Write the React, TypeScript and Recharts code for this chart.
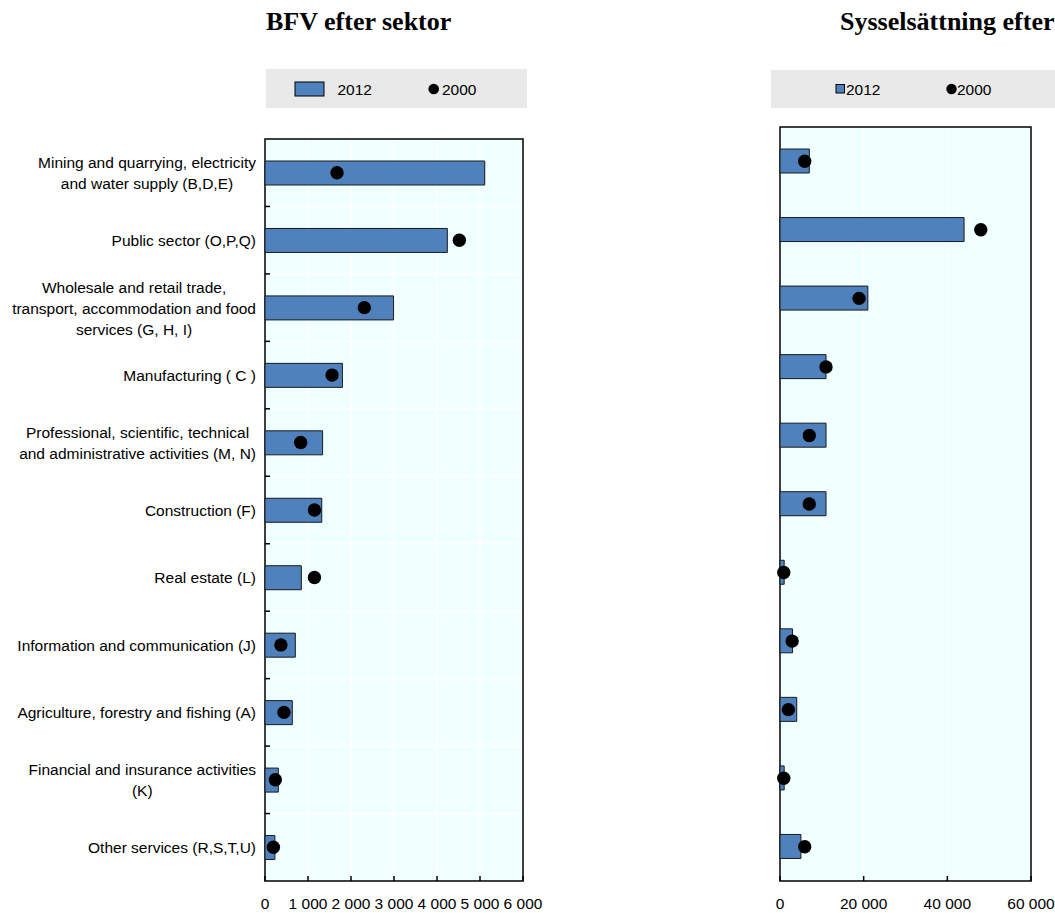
import React from 'react';
import { Bar, CartesianGrid, ComposedChart, ReferenceArea, Scatter, XAxis, YAxis } from 'recharts';

// categories (top to bottom), line breaks as in the original labels
const sectors = [
  'Mining and quarrying, electricity\nand water supply (B,D,E)',
  'Public sector (O,P,Q)',
  'Wholesale and retail trade,\ntransport, accommodation and food\nservices (G, H, I)',
  'Manufacturing ( C )',
  'Professional, scientific, technical\nand administrative activities (M, N)',
  'Construction (F)',
  'Real estate (L)',
  'Information and communication (J)',
  'Agriculture, forestry and fishing (A)',
  'Financial and insurance activities\n(K)',
  'Other services (R,S,T,U)',
];

// BFV (gross value added)
const gva2012 = [5110, 4240, 2990, 1800, 1340, 1320, 845, 705, 635, 310, 230];
const gva2000 = [1675, 4520, 2310, 1560, 830, 1150, 1150, 370, 440, 240, 195];

// employment
const emp2012 = [7000, 44000, 21000, 11000, 11000, 11000, 1000, 3000, 4000, 1000, 5000];
const emp2000 = [5900, 48000, 18900, 11000, 7000, 7000, 900, 2900, 2000, 900, 5900];

const gvaTicks = [0, 1000, 2000, 3000, 4000, 5000, 6000];
const empTicks = [0, 20000, 40000, 60000];

const gvaData = sectors.map((name, i) => ({ name, v2012: gva2012[i], v2000: gva2000[i] }));
const empData = sectors.map((name, i) => ({ name, v2012: emp2012[i], v2000: emp2000[i] }));

const SANS = '"Liberation Sans", Arial, sans-serif';
const FONT_SIZE = 15.5;
const LINE_H = 21;
const BAR_BLUE = '#4f81bd';
const PLOT_BG = '#f0ffff';

let ctx: CanvasRenderingContext2D | null = null;
const measure = (s: string) => {
  if (!ctx) ctx = document.createElement('canvas').getContext('2d');
  if (!ctx) return s.length * 7.5;
  ctx.font = `${FONT_SIZE}px ${SANS}`;
  return ctx.measureText(s).width;
};

const fmt = (v: number) => String(v).replace(/\B(?=(\d{3})+(?!\d))/g, '\u00a0');

// horizontal grid lines on the category boundaries
const bandBoundaries = ({ offset }: any) => {
  const n = sectors.length;
  const out: number[] = [];
  for (let i = 1; i < n; i++) out.push(offset.top + (offset.height * i) / n);
  return out;
};

const CategoryTick = (props: any) => {
  const { x, y, payload, index, height, visibleTicksCount, tickMargin = 9 } = props;
  const lines = String(payload.value).split('\n');
  const w = Math.max(...lines.map(measure));
  const cx = x - w / 2;
  const top = y - ((lines.length - 1) * LINE_H) / 2;
  const band = height / (visibleTicksCount || sectors.length);
  const axisX = x + tickMargin;
  return (
    <g>
      {index < (visibleTicksCount || sectors.length) - 1 && (
        <line x1={axisX} x2={axisX + 5} y1={y + band / 2} y2={y + band / 2} stroke="#000" strokeWidth={1.5} />
      )}
      <text textAnchor="middle" fontFamily={SANS} fontSize={FONT_SIZE} fill="#000">
        {lines.map((l, i) => (
          <tspan key={i} x={cx} y={top + i * LINE_H + 6}>
            {l}
          </tspan>
        ))}
      </text>
    </g>
  );
};

const ValueTick = (props: any) => {
  const { x, y, payload } = props;
  return (
    <g>
      <line x1={x} x2={x} y1={y} y2={y - 5} stroke="#000" strokeWidth={1.5} />
      <text x={x} y={y + 28} textAnchor="middle" fontFamily={SANS} fontSize={FONT_SIZE} fill="#000">
        {fmt(payload.value)}
      </text>
    </g>
  );
};

const Dot = (props: any) => <circle cx={props.cx} cy={props.cy} r={6.7} fill="#000" />;

const GvaChart = () => (
  <ComposedChart
    layout="vertical"
    width={560}
    height={913}
    data={gvaData}
    margin={{ top: 139, right: 37, bottom: 2, left: 0 }}
  >
    <CartesianGrid
      fill={PLOT_BG}
      stroke="#ffffff"
      strokeWidth={1.5}
      horizontalCoordinatesGenerator={bandBoundaries}
    />
    <XAxis
      type="number"
      domain={[0, 6000]}
      ticks={gvaTicks}
      height={30}
      axisLine={false}
      tickLine={false}
      tickSize={0}
      tickMargin={0}
      tick={<ValueTick />}
      interval={0}
    />
    <YAxis
      type="category"
      dataKey="name"
      width={265}
      axisLine={false}
      tickLine={false}
      tickSize={0}
      tickMargin={9}
      tick={<CategoryTick tickMargin={9} />}
      interval={0}
    />
    <Bar dataKey="v2012" fill={BAR_BLUE} stroke="#1a1a1a" strokeWidth={1} barSize={24} isAnimationActive={false} />
    <Scatter dataKey="v2000" fill="#000" shape={<Dot />} isAnimationActive={false} />
    <ReferenceArea x1={0} x2={6000} fill="none" stroke="#000" strokeWidth={1.5} ifOverflow="visible" />
  </ComposedChart>
);

const EmpChart = () => (
  <ComposedChart
    layout="vertical"
    width={315}
    height={913}
    data={empData}
    margin={{ top: 127, right: 24, bottom: 2, left: 40 }}
  >
    <CartesianGrid horizontal={false} fill={PLOT_BG} stroke="#ffffff" strokeWidth={1} />
    <XAxis
      type="number"
      domain={[0, 60000]}
      ticks={empTicks}
      height={30}
      axisLine={false}
      tickLine={false}
      tickSize={0}
      tickMargin={0}
      tick={<ValueTick />}
      interval={0}
    />
    <YAxis type="category" dataKey="name" hide />
    <Bar dataKey="v2012" fill={BAR_BLUE} stroke="#1a1a1a" strokeWidth={1} barSize={24} isAnimationActive={false} />
    <Scatter dataKey="v2000" fill="#000" shape={<Dot />} isAnimationActive={false} />
    <ReferenceArea x1={0} x2={60000} fill="none" stroke="#000" strokeWidth={1.5} ifOverflow="visible" />
  </ComposedChart>
);

const Headers = () => (
  <svg width={1055} height={913} style={{ position: 'absolute', left: 0, top: 0, pointerEvents: 'none' }}>
    <text x={266} y={30} fontFamily='"Liberation Serif", "Times New Roman", serif' fontWeight="bold" fontSize={26} fill="#000">
      BFV efter sektor
    </text>
    <text x={840} y={30} fontFamily='"Liberation Serif", "Times New Roman", serif' fontWeight="bold" fontSize={26} fill="#000">
      Sysselsättning efter sektor
    </text>

    <rect x={266} y={69} width={261} height={39} fill="#e9e9e9" />
    <rect x={295} y={82} width={29} height={14} fill={BAR_BLUE} stroke="#000" strokeWidth={1} />
    <text x={337.5} y={94.5} fontFamily={SANS} fontSize={FONT_SIZE} fill="#000">2012</text>
    <circle cx={433.7} cy={89} r={5.3} fill="#000" />
    <text x={442} y={94.5} fontFamily={SANS} fontSize={FONT_SIZE} fill="#000">2000</text>

    <rect x={771} y={70} width={300} height={38} fill="#e9e9e9" />
    <rect x={836} y={84.5} width={8.5} height={8.5} fill={BAR_BLUE} stroke="#000" strokeWidth={1} />
    <text x={846} y={94.5} fontFamily={SANS} fontSize={FONT_SIZE} fill="#000">2012</text>
    <circle cx={951.5} cy={89} r={5.2} fill="#000" />
    <text x={957} y={94.5} fontFamily={SANS} fontSize={FONT_SIZE} fill="#000">2000</text>
  </svg>
);

export default function App() {
  return (
    <div style={{ position: 'fixed', left: 0, top: 0, width: 1055, height: 913, overflow: 'hidden', background: '#fff' }}>
      <Headers />
      <div style={{ position: 'absolute', left: 0, top: 0 }}>
        <GvaChart />
      </div>
      <div style={{ position: 'absolute', left: 740, top: 0 }}>
        <EmpChart />
      </div>
    </div>
  );
}
